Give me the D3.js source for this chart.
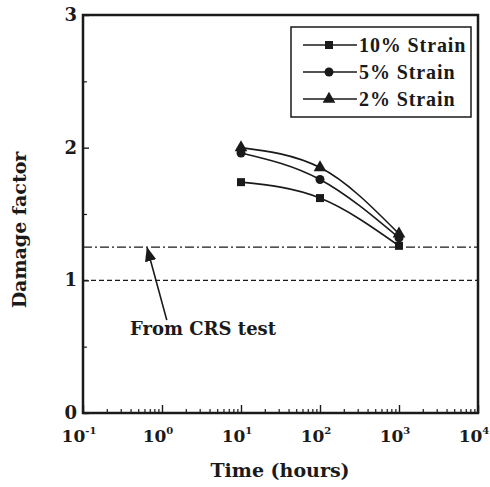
<!DOCTYPE html>
<html>
<head>
<meta charset="utf-8">
<script src="https://cdn.jsdelivr.net/npm/d3@7"></script>
<style>
  body { margin: 0; background: #fff; }
  svg text { font-family: "DejaVu Serif", "Liberation Serif", serif; font-weight: bold; fill: #1a1a1a; }
</style>
</head>
<body>
<svg id="chart" width="490" height="487"></svg>
<script>
// data
const times = [10, 100, 1000];
const strain10 = [1.74, 1.62, 1.26];
const strain5 = [1.96, 1.76, 1.32];
const strain2 = [2.0, 1.85, 1.35];
const seriesNames = ["10% Strain", "5% Strain", "2% Strain"];
const seriesMarkers = ["square", "circle", "triangle"];
const yTicks = [0, 1, 2, 3];
const yMinor = [0.5, 1.5, 2.5];
const xExponents = [-1, 0, 1, 2, 3, 4];
const crsLevel = 1.25;
const refLevel = 1.0;
const noteText = "From CRS test";

const margin = { top: 15, right: 12, bottom: 74, left: 83 };
const W = 490, H = 487;
const width = W - margin.left - margin.right;
const height = H - margin.top - margin.bottom;

const svg = d3.select("#chart");
const g = svg.append("g").attr("transform", `translate(${margin.left},${margin.top})`);

const x = d3.scaleLog().domain([0.1, 10000]).range([0, width]);
const y = d3.scaleLinear().domain([0, 3]).range([height, 0]);

const ink = "#1a1a1a";

// minor log ticks on bottom, pointing inward
const minorX = [];
xExponents.slice(0, -1).forEach(e => {
  for (let k = 2; k <= 9; k++) minorX.push(k * Math.pow(10, e));
});
g.append("g").attr("transform", `translate(0,${height})`)
  .call(d3.axisBottom(x).tickValues(minorX).tickSize(-4).tickFormat(""))
  .call(s => s.select(".domain").remove())
  .selectAll("line").attr("stroke", ink).attr("stroke-width", 1.2);
g.append("g").attr("transform", `translate(0,${height})`)
  .call(d3.axisBottom(x).tickValues(xExponents.map(e => Math.pow(10, e))).tickSize(-8).tickFormat(""))
  .call(s => s.select(".domain").remove())
  .selectAll("line").attr("stroke", ink).attr("stroke-width", 1.4);

// x tick labels with superscripts
const xl = g.append("g").selectAll("text").data(xExponents).join("text")
  .attr("x", e => x(Math.pow(10, e)) - 4)
  .attr("y", height + 29)
  .attr("text-anchor", "middle")
  .style("font-size", "17px");
xl.append("tspan").text("10");
xl.append("tspan").attr("dy", -8).style("font-size", "10px").text(e => e);

// left axis ticks
g.append("g")
  .call(d3.axisLeft(y).tickValues(yTicks).tickSize(-6).tickFormat(""))
  .call(s => s.select(".domain").remove())
  .selectAll("line").attr("stroke", ink).attr("stroke-width", 1.4);
g.append("g")
  .call(d3.axisLeft(y).tickValues(yMinor).tickSize(-4).tickFormat(""))
  .call(s => s.select(".domain").remove())
  .selectAll("line").attr("stroke", ink).attr("stroke-width", 1.2);
g.append("g").selectAll("text").data(yTicks).join("text")
  .attr("x", -6)
  .attr("y", d => y(d) + 6)
  .attr("text-anchor", "end")
  .style("font-size", "18px")
  .text(d => d);

// frame
g.append("rect").attr("width", width).attr("height", height)
  .attr("fill", "none").attr("stroke", ink).attr("stroke-width", 2.5);

// reference lines
g.append("line")
  .attr("x1", 0).attr("x2", width).attr("y1", y(crsLevel)).attr("y2", y(crsLevel))
  .attr("stroke", ink).attr("stroke-width", 1.3).attr("stroke-dasharray", "9,3,2,3");
g.append("line")
  .attr("x1", 0).attr("x2", width).attr("y1", y(refLevel)).attr("y2", y(refLevel))
  .attr("stroke", ink).attr("stroke-width", 1.2).attr("stroke-dasharray", "5,3");

// series
const series = [strain10, strain5, strain2].map((vals, i) => ({
  name: seriesNames[i], marker: seriesMarkers[i],
  pts: vals.map((v, j) => ({ t: times[j], v }))
}));
const line = d3.line().x(d => x(d.t)).y(d => y(d.v)).curve(d3.curveMonotoneX);

function drawMarker(sel, type, cx, cy) {
  if (type === "square") {
    sel.append("rect").attr("x", cx - 4).attr("y", cy - 4).attr("width", 8).attr("height", 8).attr("fill", ink);
  } else if (type === "circle") {
    sel.append("circle").attr("cx", cx).attr("cy", cy).attr("r", 4.5).attr("fill", ink);
  } else {
    sel.append("path").attr("d", d3.symbol(d3.symbolTriangle, 70)()).attr("transform", `translate(${cx},${cy})`).attr("fill", ink);
  }
}

series.forEach(s => {
  g.append("path").datum(s.pts).attr("d", line)
    .attr("fill", "none").attr("stroke", ink).attr("stroke-width", 1.6);
  const mg = g.append("g");
  s.pts.forEach(p => drawMarker(mg, s.marker, x(p.t), y(p.v)));
});

// legend
const lg = g.append("g").attr("transform", `translate(${291 - margin.left},${27 - margin.top})`);
lg.append("rect").attr("width", 180).attr("height", 90)
  .attr("fill", "#fff").attr("stroke", ink).attr("stroke-width", 1.5);
series.forEach((s, i) => {
  const ry = 18 + i * 27;
  lg.append("line").attr("x1", 12).attr("x2", 66).attr("y1", ry).attr("y2", ry)
    .attr("stroke", ink).attr("stroke-width", 1.6);
  drawMarker(lg, s.marker, 38, ry);
  lg.append("text").attr("x", 68).attr("y", ry + 7)
    .style("font-family", "'Liberation Serif', serif").style("font-size", "20px")
    .style("letter-spacing", "0.9px")
    .text(s.name);
});

// annotation
const defs = svg.append("defs");
defs.append("marker").attr("id", "arr").attr("viewBox", "0 0 10 10")
  .attr("refX", 9).attr("refY", 5).attr("markerWidth", 9).attr("markerHeight", 9)
  .attr("orient", "auto-start-reverse")
  .append("path").attr("d", "M0,1 L10,5 L0,9 z").attr("fill", ink);
g.append("line")
  .attr("x1", x(1.15)).attr("y1", y(0.7))
  .attr("x2", x(0.65)).attr("y2", y(crsLevel) + 1)
  .attr("stroke", ink).attr("stroke-width", 1.6).attr("marker-end", "url(#arr)");
g.append("text").attr("x", 130 - margin.left).attr("y", 335 - margin.top)
  .style("font-size", "18px").text(noteText);

// axis titles
svg.append("text").attr("x", 280).attr("y", 477).attr("text-anchor", "middle")
  .style("font-size", "19px").text("Time (hours)");
svg.append("text").attr("transform", "translate(26,230) rotate(-90)").attr("text-anchor", "middle")
  .style("font-size", "19px").text("Damage factor");
</script>
</body>
</html>
